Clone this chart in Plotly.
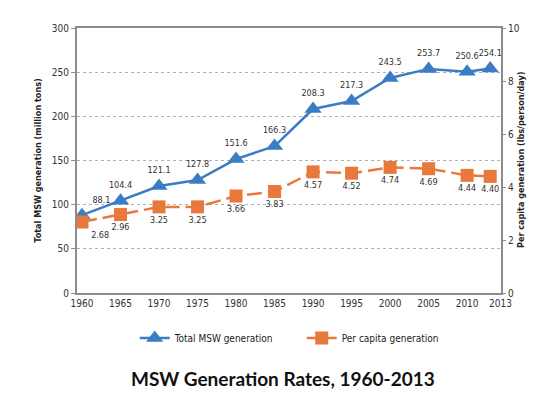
import plotly.graph_objects as go

# ---- data ----
years = [1960, 1965, 1970, 1975, 1980, 1985, 1990, 1995, 2000, 2005, 2010, 2013]
total_msw = [88.1, 104.4, 121.1, 127.8, 151.6, 166.3, 208.3, 217.3, 243.5, 253.7, 250.6, 254.1]
per_capita = [2.68, 2.96, 3.25, 3.25, 3.66, 3.83, 4.57, 4.52, 4.74, 4.69, 4.44, 4.40]

BLUE = "#3B7DC4"
ORANGE = "#E8783C"
GRAY = "#8c8c8c"
NARROW = "Liberation Sans Narrow, DejaVu Sans Condensed, Roboto, sans-serif"

fig = go.Figure()

# total MSW (left axis) - labels above
fig.add_trace(go.Scatter(
    x=years, y=total_msw, name="Total MSW generation",
    mode="lines+markers+text",
    line=dict(color=BLUE, width=2.5),
    marker=dict(symbol="triangle-up", size=15, color=BLUE),
    text=[f"{v:.1f}" for v in total_msw],
    textposition=["top right"] + ["top center"] * (len(years) - 1),
    textfont=dict(size=9, color="#333333", family=NARROW),
))

# per capita (right axis) - labels below
fig.add_trace(go.Scatter(
    x=years, y=per_capita, name="Per capita generation",
    mode="lines+markers+text", yaxis="y2",
    line=dict(color=ORANGE, width=2.5, dash="15px,6px"),
    marker=dict(symbol="square", size=13, color=ORANGE),
    text=[f"{v:.2f}" for v in per_capita],
    textposition=["bottom right"] + ["bottom center"] * (len(years) - 1),
    textfont=dict(size=9, color="#333333", family=NARROW),
))

fig.update_layout(
    width=536, height=406,
    margin=dict(l=69, r=43, t=20, b=121),
    paper_bgcolor="white", plot_bgcolor="white",
    font=dict(family=NARROW, size=10, color="#333333"),
    showlegend=True,
    legend=dict(orientation="h", x=0.53, xanchor="center", y=-0.17, yanchor="middle",
                font=dict(size=10, color="#222222"), entrywidth=122,
                itemwidth=30),
    # last tick (2013) is drawn as an annotation, nudged right like the original
    xaxis=dict(range=[1959.35, 2014.4], tickvals=years[:-1], ticks="", tickangle=0,
               showgrid=False, zeroline=False,
               showline=True, linecolor=GRAY, linewidth=2, mirror=True,
               tickfont=dict(size=10)),
    yaxis=dict(range=[0, 300], dtick=50, ticks="outside", ticklen=4, tickcolor=GRAY,
               showgrid=True, gridcolor="#b0b0b0", griddash="dot", gridwidth=1,
               zeroline=False, showline=True, linecolor=GRAY, linewidth=2,
               tickfont=dict(size=10)),
    yaxis2=dict(range=[0, 10], dtick=2, overlaying="y", side="right",
                ticks="outside", ticklen=3, tickcolor=GRAY, ticklabelstandoff=0,
                showgrid=False, zeroline=False, showline=True, linecolor=GRAY, linewidth=2,
                tickfont=dict(size=10)),
)

fig.add_annotation(text=str(years[-1]), xref="x", yref="paper", x=years[-1], y=0,
                   yanchor="top", yshift=-3, xshift=10, showarrow=False,
                   font=dict(size=10, color="#333333"))

# axis titles placed by hand so they sit where the original has them
fig.add_annotation(text="<b>Total MSW generation (million tons)</b>", textangle=-90,
                   xref="paper", yref="paper", x=-0.094, y=0.5, xanchor="center",
                   showarrow=False, font=dict(size=9, color="#222222"))
fig.add_annotation(text="<b>Per capita generation (lbs/person/day)</b>", textangle=-90,
                   xref="paper", yref="paper", x=1.046, y=0.5, xanchor="center",
                   showarrow=False, font=dict(size=9, color="#222222"))

fig.add_annotation(text="<b>MSW Generation Rates, 1960-2013</b>",
                   xref="paper", yref="paper", x=0.485, y=-0.375,
                   showarrow=False, font=dict(family="Lato, Open Sans, sans-serif",
                                              size=19, color="#111111"))

fig.write_html("out.html")
